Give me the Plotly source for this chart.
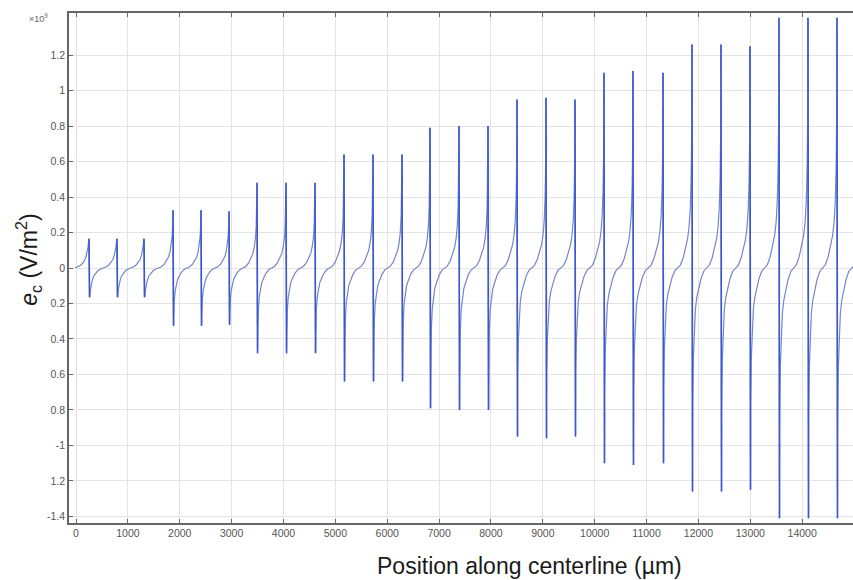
import plotly.graph_objects as go

# ---- data (values in units of 1e9 V/m^2, positions in µm) ----
SPIKE_X = [251, 790, 1311, 1870, 2410, 2950, 3490, 4049, 4608, 5167, 5726, 6285,
           6825, 7384, 7943, 8502, 9061, 9620, 10179, 10738, 11317, 11876, 12435,
           12994, 13553, 14112, 14671]
SPIKE_AMP = [0.165, 0.165, 0.165, 0.325, 0.325, 0.32, 0.48, 0.48, 0.48,
             0.64, 0.64, 0.64, 0.79, 0.80, 0.80, 0.95, 0.96, 0.95,
             1.10, 1.11, 1.10, 1.26, 1.26, 1.25, 1.41, 1.41, 1.41]

# shape of the curve on the rising half before each spike (phase 0.5 -> 1.0),
# read from the picture: absolute shoulder part + part relative to spike height
PROFILE_PHASE = [0.5, 0.6, 0.7, 0.78, 0.85, 0.9, 0.94, 0.97, 0.99, 1.0]
PROFILE_BASE = [0.0, 0.004, 0.009, 0.016, 0.028, 0.045, 0.058, 0.066, 0.07, 0.0]
PROFILE_REL = [0.0, 0.01, 0.04, 0.08, 0.11, 0.15, 0.22, 0.35, 0.55, 1.0]

X_TICKS = list(range(0, 15000, 1000))
X_TICKTEXT = [str(v) for v in X_TICKS]
Y_TICKS = [-1.4, -1.2, -1.0, -0.8, -0.6, -0.4, -0.2, 0, 0.2, 0.4, 0.6, 0.8, 1.0, 1.2]
Y_TICKTEXT = ["-1.4", "1.2", "-1", "0.8", "0.6", "0.4", "0.2", "0",
              "0.2", "0.4", "0.6", "0.8", "1", "1.2"]

DROP = 10  # µm between peak and trough of a spike

xs, ys = [], []


def rise(p_prev, p_next, a_next):
    for ph, b, r in zip(PROFILE_PHASE, PROFILE_BASE, PROFILE_REL):
        xs.append(p_prev + ph * (p_next - p_prev))
        ys.append(b + a_next * r)


def fall(p, period, a):
    for ph, b, r in zip(reversed(PROFILE_PHASE), reversed(PROFILE_BASE), reversed(PROFILE_REL)):
        q = 1 - ph
        xs.append(p + DROP + q * (period - DROP))
        ys.append(-(b + a * r))


n = len(SPIKE_X)
rise(SPIKE_X[0] - (SPIKE_X[1] - SPIKE_X[0]), SPIKE_X[0], SPIKE_AMP[0])
for i in range(n):
    if i < n - 1:
        T = SPIKE_X[i + 1] - SPIKE_X[i]
        fall(SPIKE_X[i], T, SPIKE_AMP[i])
        rise(SPIKE_X[i], SPIKE_X[i + 1], SPIKE_AMP[i + 1])
    else:
        T = SPIKE_X[i] - SPIKE_X[i - 1]
        fall(SPIKE_X[i], T, SPIKE_AMP[i])
        xs.append(SPIKE_X[i] + 0.62 * T)
        ys.append(PROFILE_BASE[1] + SPIKE_AMP[i] * PROFILE_REL[1])

sx, sy = [], []
for p, a in zip(SPIKE_X, SPIKE_AMP):
    sx += [p, p + DROP, None]
    sy += [a, -a, None]

fig = go.Figure()
fig.add_trace(go.Scatter(x=xs, y=ys, mode="lines",
                         line=dict(color="#7685c6", width=1.2), hoverinfo="skip"))
fig.add_trace(go.Scatter(x=sx, y=sy, mode="lines",
                         line=dict(color="#3a56d2", width=1.6), hoverinfo="skip"))

axis_common = dict(showline=True, linecolor="#666666", linewidth=1.5,
                   showgrid=True, gridcolor="#e4e4e4", gridwidth=1,
                   zeroline=False, ticks="inside", ticklen=4, tickcolor="#666666",
                   tickfont=dict(size=10.5, color="#555555",
                                 family="Liberation Sans, Arial, sans-serif"))

fig.update_layout(
    width=853, height=580,
    margin=dict(l=69, r=0, t=13, b=57),
    paper_bgcolor="white", plot_bgcolor="white",
    showlegend=False,
    font=dict(family="Liberation Sans, Arial, sans-serif", color="#222222"),
    xaxis=dict(range=[-135, 14980], tickvals=X_TICKS, ticktext=X_TICKTEXT,
               mirror="ticks", **axis_common),
    yaxis=dict(range=[-1.437, 1.437], tickvals=Y_TICKS, ticktext=Y_TICKTEXT,
               mirror=False, **axis_common),
    annotations=[
        dict(text="Position along centerline (µm)", xref="paper", yref="paper",
             x=0.587, y=-0.084, xanchor="center", yanchor="middle", showarrow=False,
             font=dict(size=23, color="#1a1a1a")),
        dict(text="<i>e</i><sub>c</sub> (V/m<sup>2</sup>)", xref="paper", yref="paper",
             x=-0.0523, y=0.516, xanchor="center", yanchor="middle", textangle=-90,
             showarrow=False, font=dict(size=23, color="#1a1a1a")),
        dict(text="×10<sup>9</sup>", xref="paper", yref="paper",
             x=-0.0395, y=0.99, xanchor="center", yanchor="middle",
             showarrow=False, font=dict(size=9, color="#666666")),
    ],
)

fig.write_html("out.html")
